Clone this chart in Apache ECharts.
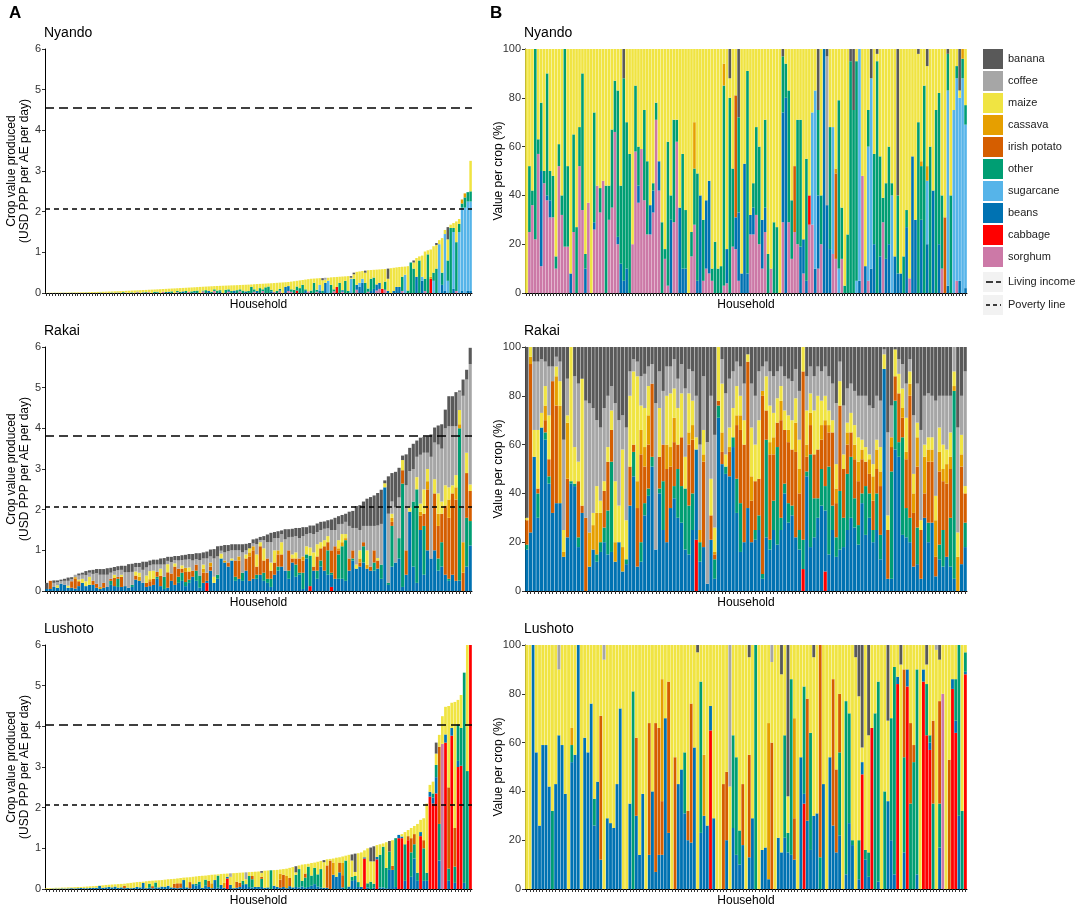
<!DOCTYPE html>
<html>
<head>
<meta charset="utf-8">
<title>Crop value per household</title>
<script src="https://cdn.jsdelivr.net/npm/echarts@6/dist/echarts.min.js"></script>
<style>
  html, body { margin: 0; padding: 0; background: #fff; }
  #chart { width: 1084px; height: 909px; }
</style>
</head>
<body>
<div id="chart"></div>
<script>
// crops, in legend order (top of the stack first)
const cropNames = ['banana', 'coffee', 'maize', 'cassava', 'irish potato', 'other', 'sugarcane', 'beans', 'cabbage', 'sorghum'];
const cropKeys = ['n', 'c', 'm', 'v', 'p', 'o', 's', 'b', 'k', 'g'];
const cropColors = ['#595959', '#A6A6A6', '#F0E442', '#E69F00', '#D55E00', '#009E73', '#56B4E9', '#0072B2', '#FF0000', '#CC79A7'];

const regions = ['Nyando', 'Rakai', 'Lushoto'];
const livingIncome = [4.55, 3.81, 4.03];
const povertyLine = [2.08, 2.08, 2.07];
const valueTicks = [0, 1, 2, 3, 4, 5, 6];
const shareTicks = [0, 20, 40, 60, 80, 100];

// one string per household: crop key + value
// panel A: USD PPP per AE per day, households sorted by total
const nyandoValue = [
  'm.004', 'm.005', 'm.006', 'o.002 m.005', 'm.008', 'm.009', 'b.003 m.007', 'm.011', 'm.012', 'o.004 m.009',
  'm.014', 'm.015', 'g.003 m.014', 'm.018', 'o.006 m.014', 'm.021', 'm.023', 'b.005 m.02', 'm.027', 'o.01 m.019',
  'm.031', 'g.005 m.028', 'm.036', 'o.012 m.026', 'm.041', 'b.01 m.034', 'm.047', 'o.02 m.03', 'g.01 m.043', 'm.056',
  'o.015 m.045', 'm.063', 'g.02 o.01 m.036', 'm.07', 'b.015 m.058', 'o.02 m.056', 'g.02 m.06', 'm.083', 'o.03 m.056', 'b.01 o.02 m.06',
  'm.094', 'g.03 m.068', 'o.025 m.077', 'b.03 m.076', 'o.04 m.07', 'm.113', 'g.02 o.03 m.067', 'o.03 m.091', 'b.04 m.085', 'o.05 m.079',
  'g.03 m.103', 'o.04 m.097', 'b.02 o.03 m.091', 'o.06 m.085', 'm.15', 'g.04 o.02 m.094', 'o.07 m.088', 'b.05 m.112', 'o.03 m.136', 'g.05 o.04 m.08',
  'o.06 m.113', 'b.03 o.04 m.106', 'm.179', 'o.08 m.102', 'g.03 b.02 o.04 m.095', 'o.05 m.138', 'b.06 m.13', 'o.07 m.123', 'g.04 o.05 m.106', 'o.06 m.14',
  'b.04 m.163', 'o.05 m.156', 'o.15 m.06', 'g.03 o.06 m.125', 'b.05 m.17', 'o.12 m.104', 'g.05 o.04 m.138', 'o.14 m.092', 'o.16 m.076', 'b.04 o.04 m.16',
  'g.03 m.215', 'o.05 m.2', 'g.04 b.02 o.04 m.155', 'm.26', 'b.15 m.115', 'g.05 b.12 m.1', 'g.03 o.06 m.19', 'o.08 m.21', 'k.06 o.1 m.14', 'o.12 m.19',
  'o.2 m.12', 'b.05 o.04 m.24', 'g.04 m.3', 'o.06 m.29', 'o.25 m.105', 'g.03 o.05 m.28', 'b.05 s.15 m.165', 'o.06 m.255 n.05', 'b.25 m.075 c.05', 's.3 m.075',
  'o.2 m.185', 'g.04 o.05 m.3', 'k.15 m.245', 'o.25 m.15', 'g.03 b.04 m.335', 'o.3 m.11', 'o.05 m.365', 's.35 m.025 n.04', 'o.35 m.11 n.04', 'g.08 b.12 m.32',
  'b.15 s.1 m.28', 'b.25 s.1 m.19', 'o.25 m.25 n.05', 'g.03 o.08 m.45', 'b.05 o.3 m.215', 'b.1 o.28 m.19', 'g.06 b.15 m.365', 'g.1 b.15 m.33', 'k.1 m.485', 'g.08 o.2 m.31',
  'b.05 m.3 n.25', 'm.61', 'b.05 m.57', 'b.15 m.48', 'b.15 m.49', 'g.05 o.35 m.245', 's.45 m.2', 'o.06 m.6', 'o.75', 'o.6 m.15 n.05',
  'b.4 m.46', 'o.8 m.1', 'b.3 s.1 m.52', 'g.05 o.3 m.67', 'o.95 m.1', 'k.35 v.05 m.67', 'o.2 s.3 m.65', 'o.6 m.58 n.05', 's1.2 m.1', 'b.2 o.3 m.85',
  'b.05 s1.4 m.1', 's.3 o.5 m.52 n.3', 'o1.6 m.08', 'b.1 s1.4 o.1 m.12', 'g.05 o1.2 m.51', 's1.5 o.2 m.12', 'b.05 s2.05 o.1 v.1', 's2.1 o.25 v.1', 'b.05 s2.2 o.23', 'b.05 s2.2 o.25 m.75'
];

const rakaiValue = [
  'b.05 n.15', 'b.05 p.2', 'b.1 c.1 n.06', 'b.08 m.06 c.08 n.04', 'b.18 c.06 n.04', 'b.15 c.1 n.05', 'b.08 m.05 c.12 n.08', 'b.08 p.16 c.05 n.05', 'b.06 p.24 v.04 c.06', 'b.12 p.12 m.04 c.1 n.05',
  'b.2 m.1 c.1 n.05', 'b.12 m.12 c.15 n.1', 'b.15 m.2 c.1 n.06', 'b.15 p.1 c.17 n.1', 'b.08 p.1 c.26 n.1', 'b.05 v.05 c.3 n.14', 'b.08 p.12 c.2 n.14', 'b.1 c.3 n.16', 'b.15 o.1 p.05 c.15 n.12', 'b.12 p.2 m.08 c.09 n.1',
  'b.1 o.2 p.05 c.16 n.1', 'b.1 p.25 m.05 c.12 n.1', 'b.12 c.34 n.16', 'b.08 c.38 n.2', 'b.1 o.05 c.32 n.2', 'b.28 p.1 m.1 c.11 n.1', 'b.25 v.1 m.1 c.14 n.1', 'b.2 c.32 n.2', 'b.1 p.1 m.18 c.2 n.14', 'b.12 p.12 v.05 m.2 c.14 n.12',
  'b.15 p.15 m.2 c.15 n.12', 'b.3 o.05 p.12 c.18 n.12', 'b.12 p.25 m.18 c.1 n.15', 'b.05 o.3 c.3 n.16', 'b.08 p.38 m.2 c.08 n.1', 'b.25 p.18 c.28 n.13', 'b.15 p.45 m.08 c.08 n.1', 'b.2 o.15 p.2 c.2 n.11', 'b.25 o.2 p.1 m.08 c.13 n.12', 'b.12 o.1 p.25 v.1 c.2 n.12',
  'b.2 o.08 p.2 m.1 c.2 n.13', 'b.35 p.15 c.25 n.16', 'b.25 o.25 p.15 c.13 n.15', 'b.08 o.3 c.38 n.17', 'b.2 p.25 v.1 m.1 c.15 n.15', 'k.2 b.05 p.2 c.35 n.17', 'b.5 p.1 v.1 c.15 n.17', 'b.2 m.15 c.45 n.23', 'b.3 o.1 c.45 n.25', 'b.8 m.12 c.07 n.12',
  'b.7 v.05 c.2 n.18', 'b.6 p.1 c.28 n.15', 'b.75 m.05 c.2 n.15', 'b.25 o.1 p.4 c.25 n.15', 'b.3 p.45 v.1 c.15 n.15', 'b.25 o.2 c.5 n.2', 'b.5 p.3 m.1 c.1 n.16', 'b.25 p.6 v.1 m.1 n.13', 'b.3 p.7 v.1 c.07 n.1', 'b.3 o.1 p.2 m.3 c.25 n.14',
  'b.4 p.7 m.1 c.05 n.08', 'b.25 o.2 p.3 m.3 c.2 n.1', 'b.2 o.1 p.5 c.4 n.19', 'b.1 o.2 p.2 m.2 c.5 n.23', 'b.4 p.3 m.3 c.3 n.15', 'b.5 o.1 p.3 v.1 c.3 n.17', 'b.6 p.3 m.3 c.2 n.09', 'b.5 c.77 n.25', 'b.3 o.2 p.5 c.32 n.2', 'b.7 p.1 m.1 c.43 n.2',
  'b.35 o.3 p.15 m.15 c.4 n.2', 'b.4 o.05 p.35 c.5 n.25', 'b.05 o.4 p.3 v.1 c.5 n.22', 'b.8 o.1 m.2 c.3 n.17', 'k.12 o.75 m.2 c.35 n.19', 'b.5 p.1 m.35 c.45 n.21', 'b.3 o.2 p.35 m.3 c.3 n.21', 'b.6 o.15 p.3 m.15 c.3 n.2', 'b.5 p.6 m.15 c.28 n.18', 'b.4 o.6 p.2 m.15 c.19 n.2',
  'k.1 b.3 o.05 p.55 c.5 n.26', 'b.3 p.8 c.4 n.3', 'b.3 o.6 p.1 v.05 m.2 c.39 n.2', 'b.3 o.8 v.1 m.2 c.25 n.22', 'b.25 o1.0 v.05 m.1 c.3 n.2', 'b.5 p.3 c.8 n.35', 'b.75 o.05 p.2 c.55 n.42', 'b.55 m.1 c.9 n.54', 'b.6 p.1 v.1 m.2 c.5 n.61', 'b.7 o.4 p.1 c.4 n.6',
  'b.55 v.1 m.35 c.6 n.67', 'b.5 p.1 c1.0 n.71', 'b.5 o.2 p.3 c.6 n.75', 'b.55 p.2 m.06 c.8 n.8', 'b.3 o.35 c1.0 n.84', 'b2.55 m.1 n.07', 'b.15 o.05 c1.7 n.92', 'b.6 o1.0 p.1 v.1 m.1 c.3 n.7', 'b.7 c1.35 n.88', 'b.8 o.5 c1.0 n.73',
  'b.1 o2.54 p.33 m.25 n.11', 'b.4 p.6 c1.6 n.76', 'b1.95 m.1 c.9 n.57', 'b.6 o1.6 c.8 n.62', 'b.2 o2.3 m.3 c.5 n.4', 'b1.5 p.35 v.1 m.2 c1.2 n.42', 'b.4 o1.2 p.3 m.6 c.9 n.39', 'b1.0 p1.5 v.2 m.3 c.4 n.4', 'b.8 c2.5 n.55', 'b1.0 p1.4 m.35 c.9 n.37',
  'b.5 o.3 p.8 v.3 m.5 c1.2 n.47', 'b.6 o.6 p.7 m.3 c1.3 n.6', 'b.4 p1.7 m.5 c1.4 n.46', 'b.25 o.05 p1.5 v.45 m.3 c1.5 n.74', 'b.4 p2.0 m.2 c1.45 n.74', 'b.25 p2.0 v.3 m.3 c1.2 n.84', 'b.25 o3.75 v.1 m.35 c.45 n.03', 'p.45 v.75 c3.6 n.4', 'b.6 o1.2 p1.1 m.5 c1.8 n.24', 'b1.12 o.6 p.74 m.16 c2.96 n.4'
];

const lushotoValue = [
  'm.02', 'm.02', 'b.01 m.015', 'b.012 m.018', 'b.01 m.02', 'b.015 m.02', 'b.012 m.023', 'b.015 m.025', 'b.02 m.02', 'b.015 m.03',
  'b.02 m.03', 'b.025 m.025', 'b.02 m.035', 'b.02 m.04', 'b.025 m.04', 'b.03 m.04', 'b.03 m.045', 'b.075 m.01', 'b.03 m.06', 'b.04 m.06',
  'b.05 m.055', 'b.04 m.07', 'b.06 m.055', 'b.03 m.09', 'b.04 m.085', 'b.02 p.06 m.05', 'b.03 m.11', 'b.02 m.13', 'b.03 m.13', 'b.05 m.12',
  'b.04 m.135', 'b.15 m.03', 'b.02 m.17', 'b.03 o.1 m.07', 'b.02 p.05 m.135', 'b.04 o.12 m.05', 'b.04 m.175', 'b.06 m.16', 'b.05 m.18', 'b.08 m.16',
  'b.04 m.205', 'b.03 p.1 m.12', 'b.02 p.12 m.12', 'b.03 p.11 m.13', 'b.22 m.06', 'b.04 m.245', 'b.02 p.15 m.12', 'b.12 m.18', 'b.08 o.05 m.18', 'b.12 o.06 m.14',
  'b.03 m.295', 'b.08 o.15 m.1', 'b.05 p.15 m.14', 'b.02 v.12 m.21', 'b.22 m.135', 'b.03 o.3 m.03', 'b.1 m.27', 'b.03 v.12 m.225', 'k.26 b.04 m.08', 'b.1 m.2 c.085',
  'b.02 m.37', 'b.03 p.15 m.215', 'b.05 p.1 m.25', 'b.1 o.1 m.205', 'b.12 m.12 c.17', 'b.05 o.27 m.095', 'b.04 o.2 p.08 m.1', 'b.05 m.375', 'b.05 m.38', 'b.05 o.2 p.05 m.1 n.04',
  'b.03 m.42', 'b.04 m.415', 'o.46', 'b.08 m.385', 'b.05 m.42', 'b.03 p.2 v.15 m.1', 'b.05 p.3 m.14', 'b.02 v.3 m.18', 'b.07 p.2 m.25', 'b.04 m.5',
  'b.05 o.3 m.06 n.15', 'b.04 o.45 m.09', 'b.06 o.14 m.4', 'b.03 o.25 p.1 m.23', 'b.05 o.5 m.07', 'b.08 o.25 m.31', 'b.12 o.4 m.13', 'b.06 o.3 m.31', 'b.04 o.45 m.2', 'b.03 m.63 n.05',
  'b.03 p.55 m.15', 'p.7 m.04', 'b.35 v.3 m.1', 'b.3 m.47', 'b.41 p.24 m.13', 'b.04 p.3 v.3 m.16', 'o.7 m.12', 'b.06 m.78', 'b.2 o.1 m.4 n.15', 'b.22 o.1 m.1 n.45',
  'b.05 o.12 m.71', 'b.05 m.85', 'k.75 b.03 m.17', 'b.04 o.1 m.86', 'o.18 m.5 n.34', 'b.03 o.1 m.55 n.37', 'k.73 b.06 m.29', 'b.04 o.8 m.26', 'b.04 o1.0 m.08', 'b.02 o.5 m.63',
  'b.47 o.45 n.26', 'b.47 p.1 m.63', 'b.05 o1.2', 'k1.25 b.08', 'k1.25 b.04 m.06', 'b.2 o.9 m.3', 'k1.2 p.1 m.15', 'b.3 o.6 p.35 m.25', 'b.75 o.35 p.25 m.2', 'b.2 o.2 m1.2',
  'k1.3 b.1 m.3', 'b.2 o.8 p.2 m.54', 'b.2 o.2 m1.7', 'k2.27 b.12 m.17', 'k2.1 b.15 o.1 m.29', 'k2.35 b.4 o.3 m.28 n.27', 'b.7 o.9 p1.9 m.29', 'g3.57 m.68', 'k3.6 b.2 m.68', 'b.2 o.3 p2.0 m2.0',
  'k3.77 b.19 m.62', 'b.15 o.4 p.95 m3.1', 'k3.0 b.15 o.9 m.6', 'k3.03 o.93 m.81', 'b.15 o5.17', 'o2.9 m3.1', 'k6'
];

// panel B: share of crop value per household (%)
const nyandoShare = [
  'm100', 'g25 o27 m48', 'g36 o6 m58', 'g22 o78', 'g57 o6 m37', 'g11 b39 o28 m22', 'g45 o5 m50', 'g38 b2 o50 m10', 'g31 b7 o12 m50', 'g31 o17 m52',
  'g10 o5 m85', 'g52 o9 m39', 'g32 o8 m60', 'g19 o81', 'g19 o33 m48', 'b8 m92', 'g25 o40 m35', 'o27 m73', 'g52 o16 m32', 'g34 o56 m10',
  'b10 o6 m84', 'g37 m63', 'm100', 'g26 b3 o45 m26', 'g44 m56', 'g33 o10 m57', 'g46 m54', 'o44 m56', 'g30 o14 m56', 'g35 o32 m33',
  'g66 o21 m13', 'g20 b3 o60 m17', 'b12 o32 m56', 'b5 o83 n12', 'b10 o60 m30', 'o57 m43', 'g20 m80', 'g58 o27 m15', 'g37 b7 o16 m40', 'g59 m41',
  'g38 o37 m25', 'g24 o30 m46', 'g24 b12 m64', 'g33 b9 o3 m55', 'g71 o7 m22', 'g42 b12 m46', 'o29 m71', 'g14 o4 m82', 'g3 o59 m38', 'b30 o10 m60',
  'g29 o42 m29', 'g62 o9 m29', 'b35 m65', 'b10 o47 m43', 'b10 o24 m66', 'm100', 'g15 o10 m75', 'g28 o23 v19 m30', 'b5 o44 m51', 'b40 m60',
  'g5 o25 m70', 'g10 b28 m62', 'g8 b38 m54', 'g5 o5 m90', 'o21 m79', 'o10 m90', 'o11 m89', 'g3 o82 v9 m6', 'g4 b14 m82', 'o80 m8 n12',
  'g19 o32 m49', 'g18 b13 p50 m19', 'g5 b28 o39 n28', 'b8 m92', 'b53 m47', 'b8 o83 m9', 'g24 b8 m68', 'g24 b11 o10 m55', 'g32 o36 m32', 'g20 o40 m40',
  'g10 b20 m70', 'g25 b10 o36 m29', 'o16 m84', 'g10 m90', 'o29 m71', 'o27 m73', 'm100', 'g29 b45 o23 n3', 'b80 o14 m6', 'g29 o54 m17',
  'g14 o24 m62', 'g25 p27 m48', 'g20 o51 m29', 'b19 o52 m29', 'g8 b14 m78', 'b5 o50 m45', 'g28 k12 m60', 'g28 s46 m26', 'b10 s73 m17', 'g10 b30 o35 n25',
  'g20 o20 m60', 'b100', 'b36 c61 n3', 'b18 o50 m32', 'g16 s52 m32', 'g14 p35 v2 m49', 's10 o69 m21', 'g14 o21 m65', 'o3 m97', 'o24 m76',
  'o95 n5', 'o75 n25', 's5 o90 m5', 'b5 s95', 'g48 m52', 'b11 m89', 'g5 s55 o15 m25', 'b10 s78 n12', 'b20 o37 m43', 'o95 m3 n2',
  'b15 o41 m44', 'g29 o10 m61', 'b14 o31 m55', 'b20 o40 m40', 's40 o5 m55', 'b15 m85', 'b8 o32 n60', 'b8 m92', 'o15 m85', 'b27 o7 m66',
  'g6 m94', 'b56 m44', 'b30 m70', 'o70 m28 n2', 'b30 o22 v2 m46', 'o85 m15', 'b20 s26 v6 m41 n7', 'o60 m40', 'b42 m58', 'o75 m25',
  'b20 o62 m18', 'g10 o30 m60', 'p31 m69', 'b3 s80 o15 n2', 'o40 m60', 's75 m25', 'g5 s83 o5 m7', 'b5 s75 m3 n17', 's88 o8 v4', 'b2 s67 o8 m23'
];

const rakaiShare = [
  'b17 o2 p10 m1 n70', 'b24 p69 v3 m4', 'b55 m11 c28 n6', 'b30 o10 p2 m24 c28 n6', 'b67 m6 c22 n5', 'b62 o3 p5 v6 m8 c10 n6', 'b44 o3 p7 m18 c20 n8', 'b32 p54 c6 n8', 'b36 p40 v12 m4 c4 n4', 'b36 v40 m10 c8 n6',
  'b14 v2 m9 c37 n38', 'b22 p24 v23 m3 c15 n13', 'b44 o1 m55', 'b43 o1 m15 c29 n12', 'b18 o4 p23 m8 c32 n15', 'b32 p3 m52 n13', 'p30 c48 n22', 'b10 v14 c53 n23', 'b17 v10 m5 c43 n25', 'b12 o3 v17 m11 c27 n30',
  'b16 o4 v12 m5 c30 n33', 'b20 o6 p15 m4 c30 n25', 'b15 o18 p20 m6 c21 n20', 'b16 o37 p13 m8 c10 n16', 'b12 v8 m25 c32 n23', 'b20 m15 c35 n30', 'b8 v10 m40 c14 n28', 'b11 o2 m16 c38 n33', 'b35 p16 m29 c10 n10', 'b47 o10 p3 m30 c5 n5',
  'b10 p24 v11 m43 c6 n6', 'b12 o8 p36 v10 m10 c12 n12', 'b31 o5 p15 v8 m16 c14 n11', 'b39 o3 p18 v12 m12 c8 n8', 'b51 o4 p30 c8 n7', 'b17 c60 n23', 'b40 o2 p13 m20 c15 n10', 'b25 o20 p15 c22 n18', 'b20 p30 v10 m20 c12 n8', 'b34 p17 v8 m22 c11 n8',
  'b38 o5 p18 v10 m12 c12 n5', 'b30 o20 p10 m15 c12 n13', 'b28 o15 p20 m18 c12 n7', 'b17 o25 m13 c28 n17', 'b15 o20 p25 v5 m16 c10 n9', 'b25 o15 p22 v6 m10 c12 n10', 'k21 b37 m5 c17 n20', 'b12 o8 v5 c35 n40', 'b18 p35 v3 m10 c22 n12', 'b3 c58 n39',
  'b21 p10 m15 c34 n20', 'b5 o8 p2 v1 m10 c38 n36', 'b71 o5 p2 m22', 'b52 p5 v8 m20 c10 n5', 'b48 o3 m5 c25 n19', 'b47 p10 v2 m8 c20 n13', 'b59 o4 m12 c15 n10', 'b32 o14 p22 v4 m12 c10 n6', 'b16 o20 p30 v6 m8 c12 n8', 'b20 p40 m10 c15 n15',
  'b34 p60 m3 n3', 'b20 p17 v10 m20 c18 n15', 'b21 o4 p20 m15 c20 n20', 'b25 o6 p15 m24 c20 n10', 'b5 o2 p73 v2 c10 n8', 'b22 o40 p12 m14 c6 n6', 'b17 o4 p35 v5 m15 c14 n10', 'b25 o12 p19 v7 m10 c15 n12', 'b19 o40 p10 m10 c11 n10', 'b25 o5 p40 v8 m6 c8 n8',
  'b40 o4 p22 m8 c14 n12', 'b28 o8 p25 v5 m6 c15 n13', 'b31 o4 p23 m12 c16 n14', 'b22 p35 v12 m10 c12 n9', 'b17 o8 p15 v10 m12 c20 n18', 'k9 o12 p69 m10', 'b47 o2 p6 v5 m14 c14 n12', 'b18 o38 p12 v5 m8 c11 n8', 'b22 o16 p18 m18 c14 n12', 'b30 o8 p20 m22 c12 n8',
  'b35 o15 p12 v6 m10 c12 n10', 'k8 b25 o10 p25 v2 m10 c12 n8', 'b15 o36 p14 v3 m6 c14 n12', 'b25 o10 p30 m5 c15 n15', 'b14 o8 p14 v6 m10 c25 n23', 'b17 o24 p35 m10 c8 n6', 'b18 o12 p20 m6 c20 n24', 'b25 o23 p12 v5 m4 c14 n17', 'b30 o25 p10 m8 c12 n15', 'b26 o12 p16 v6 m8 c14 n18',
  'b19 o8 p18 v8 m10 c17 n20', 'b36 o4 p14 v4 m4 c18 n20', 'b23 o20 p10 m6 c21 n20', 'b30 o10 p8 v6 m2 c20 n24', 'b20 o5 p12 v10 m5 c23 n25', 'b25 o15 p10 v8 m4 c18 n20', 'b13 o10 p20 v6 m10 c19 n22', 'b91 m6 c2 n1', 'b5 p20 m6 c34 n35', 'b5 o44 p10 v4 c13 n24',
  'b58 o20 p10 m11 n1', 'b55 o6 p20 m8 c6 n5', 'b23 o40 p8 v4 m8 c10 n7', 'b22 o12 p20 v3 m14 c14 n15', 'b20 o10 p50 v5 m5 c5 n5', 'b10 p22 v8 m8 c24 n28', 'b11 o15 p25 v12 m6 c16 n15', 'b5 p20 m4 c37 n34', 'b30 p10 v15 m5 c20 n20', 'b20 o8 p25 v5 m5 c18 n19',
  'b28 p25 v5 m5 c17 n20', 'b6 p8 v15 m10 c39 n22', 'b13 o6 p30 v8 m10 c13 n20', 'b10 o15 p20 v5 m10 c20 n20', 'b14 p30 v8 m6 c22 n20', 'b10 o20 p20 v5 m10 c15 n20', 'b5 o77 v2 m6 c10', 'v14 m10 c43 n33', 'b11 p40 v5 m8 c16 n20', 'b18 o10 p12 m3 c47 n10'
];

const lushotoShare = [
  'm100', 'm100', 'b100', 'b56 m44', 'b26 m74', 'b59 m41', 'b59 m41', 'b42 m58', 'o32 m68', 'b43 m57',
  'b63 m27 c10', 'b59 m41', 'b39 m61', 'm100', 'b52 o7 v7 m34', 'b55 m45', 'b100', 'm100', 'b62 m38', 'b56 m44',
  'b76 m24', 'b26 o11 m63', 'b44 m56', 'b12 p59 m29', 'm94 c6', 'b29 m71', 'b27 m73', 'b25 m75', 'b43 m57', 'b74 m26',
  'm100', 'm100', 'b35 m65', 'o81 m19', 'b30 p32 m38', 'b14 m86', 'b39 m61', 'm100', 'b14 p54 m32', 'b40 m60',
  'b7 p61 m32', 'b14 p52 m34', 'b14 p22 v50 m14', 'b70 m30', 'b23 p62 m15', 'm100', 'p54 m46', 'b43 m57', 'b49 m51', 'b31 o25 m44',
  'b20 p12 m68', 'b19 p57 m24', 'b58 m42', 'm97 n3', 'b23 o62 m15', 'b30 v25 m45', 'b26 m74', 'k65 b10 m25', 'b29 m71', 'm100',
  'm100', 'p43 m57', 'b20 p28 m52', 'm42 c58', 'b25 o38 m37', 'b14 o40 m46', 'b10 o14 m76', 'b18 p25 m57', 'm100', 'b13 p42 m40 n5',
  'b29 m71', 'o100', 'm100', 'b16 m84', 'b17 m83', 'b4 v64 m32', 'p60 m33 c7', 'm100', 'b21 m79', 'b15 m73 n12',
  'b21 o42 m37', 'b15 o8 m15 n62', 'b14 o72 m14', 'b12 p17 v41 m30', 'm100', 'b54 m46', 'k35 b4 o44 m17', 'b28 p50 m22', 'b16 o48 m36', 'b30 m65 n5',
  'b31 m69', 'o13 p87', 'b43 m57', 'm100', 'b54 m46', 'b26 p60 m14', 'b15 p34 m51', 'b22 o34 p24 m20', 'm100', 'b6 o71 m23',
  'b27 o45 m28', 'b18 o2 m80', 'm95 n5', 'b4 o16 m59 n21', 'k47 b5 m6 n42', 'b12 o4 m84', 'b5 o10 m48 n37', 'k66 m34', 'o72 m28', 'b3 o82 m15',
  'm100', 'o40 m60', 'b36 m33 n31', 'b20 o50 m30', 'b6 o85 m9', 'k84 b3 m13', 'm92 n8', 'b15 o39 p36 m10', 'k83 b7 m10', 'o35 p33 m32',
  'o52 p7 m41', 'b6 o84 m10', 'm100', 'k85 b5 m10', 'k63 o21 m8 n8', 'k57 b3 o3 m37', 'o35 p34 m31', 'm98 c2', 'b17 o18 p42 m17 n6', 'g80 m20',
  'm100', 'p53 m47', 'k82 b4 m14', 'k64 b5 o17 m14', 'b30 o70', 'o32 m68', 'k88 b1 o8 m3'
];

const valueByRegion = [nyandoValue, rakaiValue, lushotoValue];
const shareByRegion = [nyandoShare, rakaiShare, lushotoShare];

const FONT = '"Liberation Sans", Arial, sans-serif';
const gridTops = [49, 347, 645];

function parseHousehold(str) {
  const out = {};
  str.replace(/([a-z])([\d.]+)/g, (_, k, v) => { out[k] = parseFloat(v); return ''; });
  return out;
}

const grids = [], xAxes = [], yAxes = [], series = [], titles = [];

// bottom of the stack first
const stackOrder = cropKeys.map((_, i) => i).reverse();

regions.forEach((region, r) => {
  const top = gridTops[r];
  titles.push({ text: region, left: 44, top: top - 23, padding: 0, textStyle: { fontSize: 14, fontWeight: 'normal', color: '#000', fontFamily: FONT } });
  titles.push({ text: region, left: 524, top: top - 23, padding: 0, textStyle: { fontSize: 14, fontWeight: 'normal', color: '#000', fontFamily: FONT } });

  [0, 1].forEach(side => {
    const gi = grids.length;
    const rows = (side === 0 ? valueByRegion[r] : shareByRegion[r]).map(parseHousehold);
    grids.push({ left: side ? 525 : 45, top: top, width: side ? 442 : 427, height: 244 });

    xAxes.push({
      type: 'category', gridIndex: gi, data: rows.map((_, i) => i + 1),
      name: 'Household', nameLocation: 'middle', nameGap: 6,
      nameTextStyle: { fontSize: 12, color: '#000', fontFamily: FONT },
      axisLine: { lineStyle: { color: '#000', width: 1 } },
      axisTick: { show: true, interval: 0, alignWithLabel: true, length: 3, lineStyle: { color: '#333' } },
      axisLabel: { show: false, interval: 0 },
      splitLine: { show: false }
    });

    const ticks = side === 0 ? valueTicks : shareTicks;
    yAxes.push({
      type: 'value', gridIndex: gi,
      min: ticks[0], max: ticks[ticks.length - 1], interval: ticks[1] - ticks[0],
      name: side === 0 ? 'Crop value produced\n(USD PPP per AE per day)' : 'Value per crop (%)',
      nameLocation: 'middle', nameGap: side === 0 ? 14 : 20,
      nameMoveOverlap: false,
      nameTextStyle: { fontSize: 12, color: '#000', fontFamily: FONT, lineHeight: 13 },
      axisLine: { show: true, lineStyle: { color: '#000', width: 1 } },
      axisTick: { show: true, length: 3, lineStyle: { color: '#333' } },
      axisLabel: { fontSize: 11, color: '#333', margin: 4, fontFamily: FONT },
      splitLine: { show: false }
    });

    stackOrder.forEach((ci, k) => {
      const key = cropKeys[ci];
      const data = rows.map(h => {
        const v = h[key] || 0;
        if (side === 0) return v;
        const total = Object.values(h).reduce((a, b) => a + b, 0);
        return total ? v / total * 100 : 0;
      });
      const s = {
        type: 'bar', name: cropNames[ci], xAxisIndex: gi, yAxisIndex: gi,
        stack: 'panel' + gi, data: data,
        barCategoryGap: '12%',
        itemStyle: { color: cropColors[ci] },
        emphasis: { disabled: true },
        silent: true
      };
      if (side === 0 && k === 0) {
        s.markLine = {
          silent: true, symbol: 'none', label: { show: false }, animation: false,
          data: [
            { yAxis: livingIncome[r], lineStyle: { color: '#000', width: 1.5, type: [9, 5] } },
            { yAxis: povertyLine[r], lineStyle: { color: '#000', width: 1.5, type: [5, 4] } }
          ]
        };
      }
      series.push(s);
    });
  });
});

titles.push({ text: 'A', left: 9, top: 5, padding: 0, textStyle: { fontSize: 17, fontWeight: 'bold', color: '#000', fontFamily: FONT } });
titles.push({ text: 'B', left: 490, top: 5, padding: 0, textStyle: { fontSize: 17, fontWeight: 'bold', color: '#000', fontFamily: FONT } });

const chart = echarts.init(document.getElementById('chart'), null, { renderer: 'canvas' });
chart.setOption({
  backgroundColor: '#fff',
  animation: false,
  textStyle: { fontFamily: FONT },
  title: titles,
  legend: {
    data: cropNames, orient: 'vertical', left: 983, top: 49,
    itemWidth: 20, itemHeight: 20, itemGap: 2, icon: 'rect',
    selectedMode: false, padding: 0,
    textStyle: { fontSize: 11, color: '#222', fontFamily: FONT }
  },
  graphic: [
    { type: 'rect', left: 983, top: 272, shape: { width: 20, height: 20 }, style: { fill: '#F2F2F2' } },
    { type: 'line', shape: { x1: 986, y1: 282, x2: 1001, y2: 282 }, style: { stroke: '#000', lineWidth: 1.5, lineDash: [7, 3] } },
    { type: 'text', left: 1008, top: 276, style: { text: 'Living income', fontSize: 11, fill: '#222', fontFamily: FONT } },
    { type: 'rect', left: 983, top: 295, shape: { width: 20, height: 20 }, style: { fill: '#F2F2F2' } },
    { type: 'line', shape: { x1: 986, y1: 305, x2: 1001, y2: 305 }, style: { stroke: '#000', lineWidth: 1.5, lineDash: [4, 3] } },
    { type: 'text', left: 1008, top: 299, style: { text: 'Poverty line', fontSize: 11, fill: '#222', fontFamily: FONT } }
  ],
  grid: grids,
  xAxis: xAxes,
  yAxis: yAxes,
  series: series
});
</script>
</body>
</html>
